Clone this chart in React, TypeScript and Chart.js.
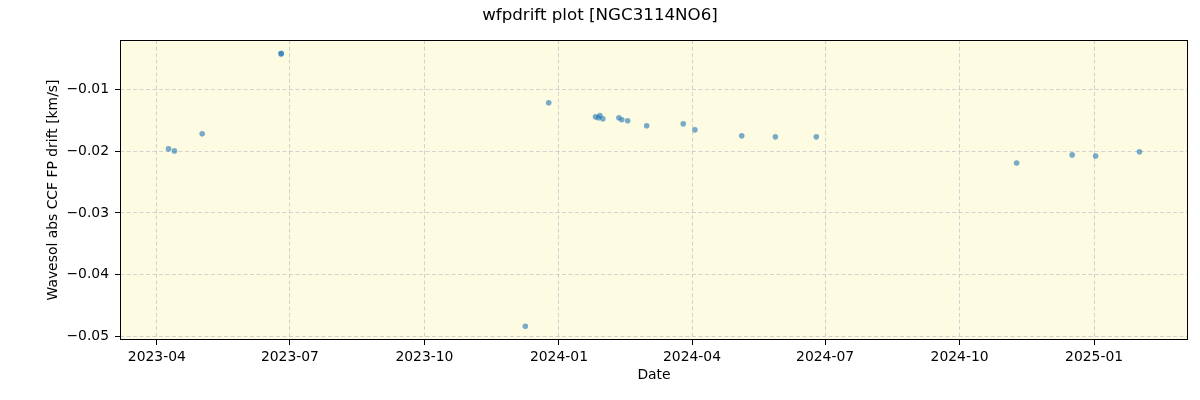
import React, { useEffect, useRef } from 'react';
import { Chart, registerables } from 'chart.js';

Chart.register(...registerables);

const obsDates = [
  '2023-04-09', '2023-04-13', '2023-05-02', '2023-06-25', '2023-06-25',
  '2023-12-09', '2023-12-25', '2024-01-26', '2024-01-28', '2024-01-29',
  '2024-01-31', '2024-02-11', '2024-02-13', '2024-02-17', '2024-03-01',
  '2024-03-26', '2024-04-03', '2024-05-05', '2024-05-28', '2024-06-25',
  '2024-11-09', '2024-12-17', '2025-01-02', '2025-02-01',
];
const driftValues = [
  -0.01961, -0.01993, -0.01716, -0.00414, -0.00414,
  -0.04842, -0.01212, -0.01440, -0.01456, -0.01418,
  -0.01472, -0.01456, -0.01488, -0.01505, -0.01586,
  -0.01554, -0.01651, -0.01749, -0.01765, -0.01765,
  -0.02189, -0.02058, -0.02075, -0.02009,
];
const xTickDates = [
  '2023-04-01', '2023-07-01', '2023-10-01', '2024-01-01',
  '2024-04-01', '2024-07-01', '2024-10-01', '2025-01-01',
];
const yTickValues = [-0.05, -0.04, -0.03, -0.02, -0.01];

const TITLE = 'wfpdrift plot [NGC3114NO6]';
const X_LABEL = 'Date';
const Y_LABEL = 'Wavesol abs CCF FP drift [km/s]';

const DAY_MS = 86400000;
const toDay = (s: string) => Date.parse(s + 'T00:00:00Z') / DAY_MS;
const fmtMonth = (d: number) => new Date(Math.round(d) * DAY_MS).toISOString().slice(0, 7);
const fmtY = (v: number) => (v < 0 ? '\u2212' : '') + Math.abs(v).toFixed(2);

const FONT = 'DejaVu Sans';
const FS = 13.9;

export default function App() {
  const canvasRef = useRef<HTMLCanvasElement | null>(null);

  useEffect(() => {
    const canvas = canvasRef.current;
    if (!canvas) return;

    const xs = obsDates.map(toDay);
    const xMin0 = Math.min(...xs);
    const xMax0 = Math.max(...xs);
    const xPad = (xMax0 - xMin0) * 0.05;
    const yMin0 = Math.min(...driftValues);
    const yMax0 = Math.max(...driftValues);
    const yPad = (yMax0 - yMin0) * 0.05;

    const points = xs.map((x, i) => ({ x, y: driftValues[i] }));
    const xTicks = xTickDates.map(toDay);

    const decor = {
      id: 'decor',
      beforeDraw(chart: any) {
        const { ctx, chartArea: a } = chart;
        ctx.save();
        ctx.fillStyle = '#ffffff';
        ctx.fillRect(0, 0, chart.width, chart.height);
        ctx.fillStyle = '#fdfbe2';
        ctx.fillRect(a.left, a.top, a.right - a.left, a.bottom - a.top);
        ctx.restore();
      },
      afterDraw(chart: any) {
        const { ctx, chartArea: a } = chart;
        ctx.save();
        ctx.strokeStyle = '#000';
        ctx.lineWidth = 1;
        ctx.strokeRect(Math.round(a.left) + 0.5, Math.round(a.top) + 0.5,
          Math.round(a.right - a.left) - 1, Math.round(a.bottom - a.top) - 1);
        ctx.fillStyle = '#000';
        ctx.font = `16.7px "${FONT}"`;
        ctx.textAlign = 'center';
        ctx.textBaseline = 'middle';
        ctx.fillText(TITLE, 600, 16);
        ctx.restore();
      },
    };

    const gridCommon = {
      color: 'rgba(176,176,190,0.55)',
      lineWidth: 1,
      tickLength: 5,
      tickColor: '#000',
      tickWidth: 1,
    };

    const chart = new Chart(canvas, {
      type: 'scatter',
      data: {
        datasets: [
          {
            data: points,
            backgroundColor: 'rgba(31,119,180,0.6)',
            borderColor: 'rgba(31,119,180,0.6)',
            borderWidth: 0,
            pointRadius: 2.8,
          },
        ],
      },
      options: {
        responsive: false,
        animation: false,
        events: [],
        layout: { padding: { top: 40, right: 12, left: 0, bottom: 0 } },
        plugins: {
          legend: { display: false },
          tooltip: { enabled: false },
          title: { display: false },
        },
        scales: {
          x: {
            type: 'linear',
            min: xMin0 - xPad,
            max: xMax0 + xPad,
            afterBuildTicks: (scale: any) => {
              scale.ticks = xTicks.map((v) => ({ value: v }));
            },
            afterFit: (scale: any) => {
              scale.height = 60;
            },
            ticks: {
              callback: (v: any) => fmtMonth(Number(v)),
              color: '#000',
              font: { family: FONT, size: FS },
              padding: 4,
              maxRotation: 0,
              autoSkip: false,
            },
            grid: gridCommon,
            border: { display: false, dash: [4, 2.5] },
            title: {
              display: true,
              text: X_LABEL,
              color: '#000',
              font: { family: FONT, size: FS },
              padding: { top: 0, bottom: 16 },
            },
          },
          y: {
            type: 'linear',
            min: yMin0 - yPad,
            max: yMax0 + yPad,
            afterBuildTicks: (scale: any) => {
              scale.ticks = yTickValues.map((v) => ({ value: v }));
            },
            afterFit: (scale: any) => {
              scale.width = 120;
            },
            ticks: {
              callback: (v: any) => fmtY(Number(v)),
              color: '#000',
              font: { family: FONT, size: FS },
              padding: 6,
              autoSkip: false,
            },
            grid: gridCommon,
            border: { display: false, dash: [4, 2.5] },
            title: {
              display: true,
              text: Y_LABEL,
              color: '#000',
              font: { family: FONT, size: FS },
              padding: { top: 45, bottom: 0 },
            },
          },
        },
      },
      plugins: [decor],
    } as any);

    return () => {
      chart.destroy();
    };
  }, []);

  return (
    <div style={{ position: 'fixed', left: 0, top: 0, width: 1200, height: 400, background: '#fff' }}>
      <canvas ref={canvasRef} width={1200} height={400} style={{ display: 'block' }} />
    </div>
  );
}
